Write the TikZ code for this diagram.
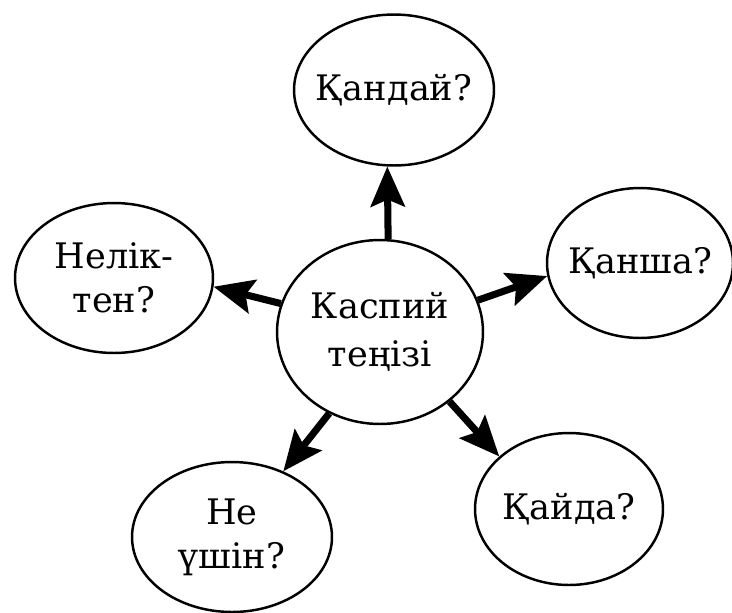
\documentclass[tikz,border=0pt]{standalone}
\usepackage{fontspec}
\setmainfont{DejaVu Serif}
\usetikzlibrary{shapes.geometric,arrows.meta}
\begin{document}
\begin{tikzpicture}[x=0.02cm,y=-0.02cm,
  bub/.style={ellipse,draw,line width=1.4pt,inner xsep=-1.2cm,inner ysep=-0.6cm,align=center,
    font=\fontsize{20}{25}\selectfont},
  arr/.style={line width=4pt,-{Stealth[length=0.8cm,width=0.68cm,inset=0.14cm]}}]
\useasboundingbox (0,0) rectangle (732,612);
\node[bub,minimum width=4.12cm,minimum height=3.68cm,font=\fontsize{20}{27}\selectfont] (c) at (380,332) {Каспий\\теңізі};
\node[bub,minimum width=4cm,minimum height=3.02cm] (top) at (394,90) {Қандай?};
\node[bub,minimum width=3.96cm,minimum height=3cm] (lft) at (114,278) {Нелік-\\тен?};
\node[bub,minimum width=3.72cm,minimum height=3cm] (rgt) at (640,263) {Қанша?};
\node[bub,minimum width=4cm,minimum height=3cm] (bl) at (232,537) {Не\\үшін?};
\node[bub,minimum width=3.76cm,minimum height=3.04cm] (br) at (569,509) {Қайда?};
\draw[arr] (c.85) -- (top.-95);
\draw[arr] (c.164) -- (lft.-5);
\draw[arr] (c.18) -- (rgt.-172);
\draw[arr] (c.238) -- (bl.52);
\draw[arr] (c.-45) -- (br.143);
\end{tikzpicture}
\end{document}
